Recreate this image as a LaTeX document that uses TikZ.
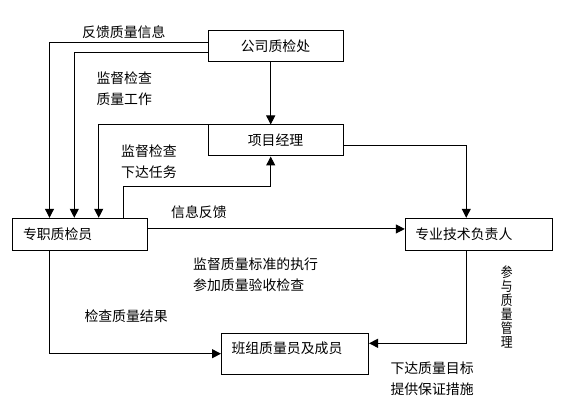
\documentclass[tikz,border=0pt]{standalone}
\usepackage{fontspec}
\usepackage{tikz}
\usetikzlibrary{arrows.meta}
\newfontfamily\cjk{Noto Sans CJK SC}

\begin{document}
\begin{tikzpicture}[x=0.75pt, y=-0.75pt,
  font=\cjk\fontsize{10.4pt}{15.75pt}\selectfont,
  line width=0.75pt,
  box/.style={draw, rectangle, minimum height=24pt},
  lbox/.style={box, text width=#1, align=left, inner xsep=7.5pt},
  lab/.style={anchor=west, inner sep=0pt, align=left},
  arr/.style={-{Triangle[length=6.75pt, width=6.75pt]}}]
  \useasboundingbox (0,0) rectangle (566,416);
  \node[box, minimum width=101.25pt, minimum height=23.25pt] (gs) at (275.5,46.5) {公司质检处};
  \node[box, minimum width=101.25pt, minimum height=23.25pt] (xm) at (275.5,140.5) {项目经理};
  \node[lbox=84.75pt, inner xsep=8.25pt] (zz) at (79.5,234.3) {专职质检员};
  \node[lbox=95.25pt] (zy) at (478.8,234.3) {专业技术负责人};
  \node[lbox=95.25pt, minimum height=30.75pt, text height=8pt, text depth=8pt] (bz) at (295,353.7) {班组质量员及成员};
  \draw[arr] ([yshift=3.3pt]gs.west) -| ([xshift=-22.5pt]zz.north);
  \draw[arr] ([yshift=-4.2pt]gs.west) -| ([xshift=-3.9pt]zz.north);
  \draw[arr] (xm.north west) -| ([xshift=14.4pt]zz.north);
  \draw[arr] ([xshift=32.85pt]zz.north) -- ++(0,-31) -| ([xshift=-3.6pt]xm.south);
  \draw[arr] ([xshift=-3.6pt]gs.south) -- ([xshift=-3.6pt]xm.north);
  \draw[arr] ([yshift=-4.1pt]xm.east) -| ([xshift=-9.4pt]zy.north);
  \draw[arr] ([yshift=4pt]zz.east) -- ([yshift=4pt]zy.west);
  \draw[arr] ([xshift=-22.5pt]zz.south) |- (bz.west);
  \draw[arr] ([xshift=-9.4pt]zy.south) |- ([yshift=7.8pt]bz.east);
  \node[lab] (l1) at (81.7,31.7) {反馈质量信息};
  \node[lab] (l2) at (96,88.7) {监督检查\\质量工作};
  \node[lab] (l3) at (120.7,161.3) {监督检查\\下达任务};
  \node[lab] (l4) at (170.7,212.3) {信息反馈};
  \node[lab] (l5) at (192.7,274.7) {监督质量标准的执行\\参加质量验收检查};
  \node[lab] (l6) at (84,316) {检查质量结果};
  \node[lab] (l7) at (390,378.7) {下达质量目标\\提供保证措施};
  \node[inner sep=0pt, align=center, xscale=0.85, font=\cjk\fontsize{10.4pt}{10.5pt}\selectfont] (l8) at (506.7,306.7) {参\\与\\质\\量\\管\\理};
\end{tikzpicture}
\end{document}
